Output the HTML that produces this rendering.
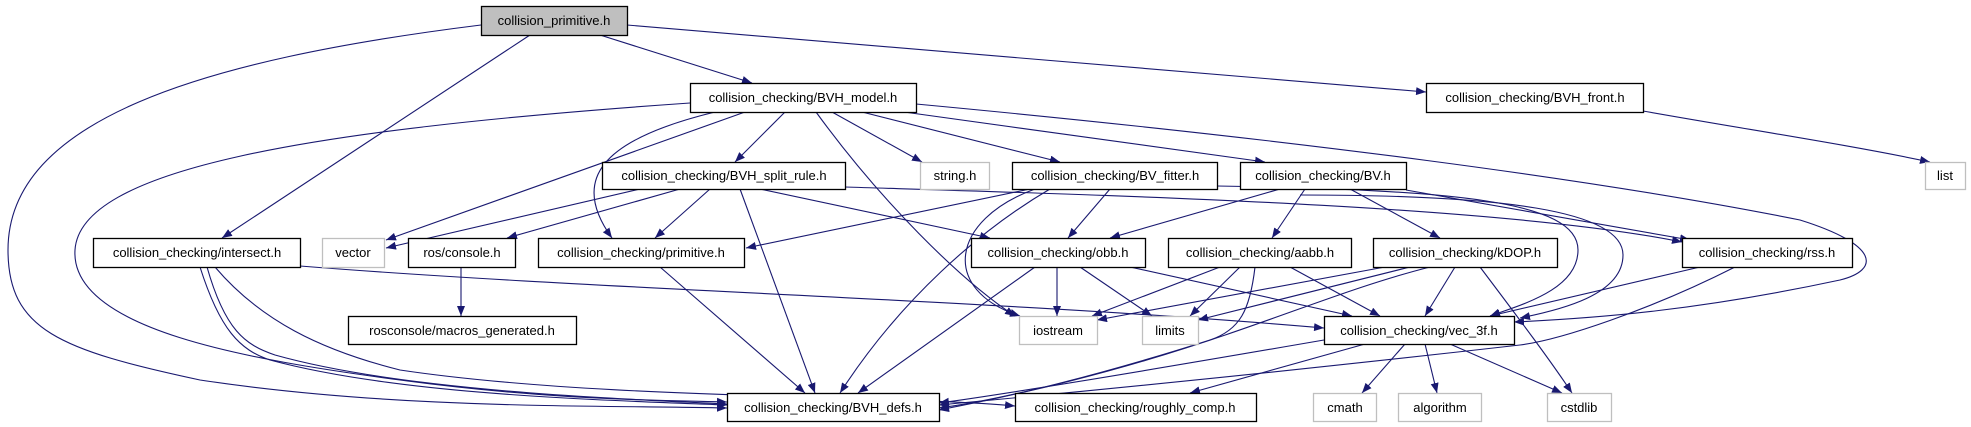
<!DOCTYPE html>
<html><head><meta charset="utf-8"><style>
html,body{margin:0;padding:0;background:#fff;}
svg{display:block;}
text{font-family:"Liberation Sans",sans-serif;font-size:13px;fill:#000;}
.e{fill:none;stroke:#191970;stroke-width:1.1;}
</style></head><body>
<svg width="1971" height="427" viewBox="0 0 1971 427" xmlns="http://www.w3.org/2000/svg">
<defs>
<marker id="a" viewBox="0 0 10 8" refX="10" refY="4" markerWidth="10" markerHeight="8" markerUnits="userSpaceOnUse" orient="auto">
<path d="M0,0 L10,4 L0,8 z" fill="#191970"/>
</marker>
</defs>
<g marker-end="url(#a)" class="e">
<!-- from collision_primitive -->
<path class="e" d="M481,25 C200,60 8,120 8,250 C8,330 60,350 200,380 C400,410 600,405 727,408"/>
<path class="e" d="M530,35 L222,238"/>
<path class="e" d="M600,35 L752,83"/>
<path class="e" d="M627,25 L1426,92"/>
<!-- BVH_model -->
<path class="e" d="M690,103 C300,130 80,170 75,250 C70,330 250,360 400,380 C550,400 650,400 727,402"/>
<path class="e" d="M745,112 L386,240"/>
<path class="e" d="M715,112 C600,140 570,180 612,238"/>
<path class="e" d="M785,112 L735,162"/>
<path class="e" d="M816,112 C880,200 960,280 1015,316"/>
<path class="e" d="M832,112 L922,162"/>
<path class="e" d="M862,112 L1060,162"/>
<path class="e" d="M904,112 L1265,162"/>
<path class="e" d="M916,104 C1300,140 1600,180 1800,220 C1880,245 1880,270 1840,280 C1700,310 1600,318 1514,322"/>
<path class="e" d="M1643,111 C1750,130 1850,145 1930,162"/>
<!-- split_rule -->
<path class="e" d="M640,189 L386,248"/>
<path class="e" d="M680,189 L507,238"/>
<path class="e" d="M710,189 L655,238"/>
<path class="e" d="M740,189 L815,393"/>
<path class="e" d="M760,189 L990,238"/>
<path class="e" d="M845,187 C1100,195 1500,205 1682,242"/>
<!-- BV_fitter -->
<path class="e" d="M1030,189 L746,248"/>
<path class="e" d="M1050,189 C980,230 900,300 840,393"/>
<path class="e" d="M1035,189 C950,220 940,290 1020,316"/>
<path class="e" d="M1110,189 L1068,238"/>
<path class="e" d="M1217,186 C1450,190 1578,200 1578,250 C1578,290 1520,305 1490,316"/>
<!-- BV.h -->
<path class="e" d="M1280,189 L1110,238"/>
<path class="e" d="M1305,189 L1272,238"/>
<path class="e" d="M1350,189 L1440,238"/>
<path class="e" d="M1406,190 L1690,240"/>
<path class="e" d="M1300,195 C1500,195 1623,210 1623,255 C1623,295 1560,310 1520,318"/>
<!-- obb -->
<path class="e" d="M1035,267 L858,393"/>
<path class="e" d="M1057,267 L1057,316"/>
<path class="e" d="M1080,267 L1152,316"/>
<path class="e" d="M1130,267 L1352,316"/>
<!-- aabb -->
<path class="e" d="M1220,267 L1092,316"/>
<path class="e" d="M1240,267 L1190,316"/>
<path class="e" d="M1255,267 C1250,310 1240,330 1210,340 C1100,375 1000,400 939,408"/>
<path class="e" d="M1290,267 L1380,316"/>
<!-- kDOP -->
<path class="e" d="M1385,267 L1097,320"/>
<path class="e" d="M1410,267 L1198,320"/>
<path class="e" d="M1430,267 C1300,300 1200,360 939,410"/>
<path class="e" d="M1455,267 L1425,316"/>
<path class="e" d="M1480,267 C1520,320 1550,360 1572,393"/>
<!-- rss -->
<path class="e" d="M1700,267 L1490,316"/>
<path class="e" d="M1735,267 C1650,310 1560,340 1520,345 C1300,370 1100,390 939,405"/>
<!-- intersect -->
<path class="e" d="M200,267 C220,330 240,350 270,360 C400,395 600,400 727,405"/>
<path class="e" d="M207,267 C225,330 245,345 275,355 C400,390 600,398 727,404"/>
<path class="e" d="M215,267 C260,320 320,350 400,370 C600,400 900,395 1015,406"/>
<path class="e" d="M300,266 C600,290 1000,300 1324,328"/>
<!-- primitive.h -->
<path class="e" d="M660,267 L805,393"/>
<!-- vec_3f -->
<path class="e" d="M1324,340 C1150,370 1000,395 939,403"/>
<path class="e" d="M1365,344 L1190,393"/>
<path class="e" d="M1405,344 L1362,393"/>
<path class="e" d="M1425,344 L1437,393"/>
<path class="e" d="M1450,344 L1562,393"/>
<!-- ros console -->
<path class="e" d="M461,267 L461,316"/>
</g>
<g stroke-width="1.3">
<rect x="481.5" y="6.5" width="146" height="29" fill="#bfbfbf" stroke="#000"/>
<rect x="690.5" y="83.5" width="226" height="29" fill="#fff" stroke="#000"/>
<rect x="1426.5" y="83.5" width="217" height="29" fill="#fff" stroke="#000"/>
<rect x="602.5" y="162.5" width="243" height="27" fill="#fff" stroke="#000"/>
<rect x="920.5" y="162.5" width="69" height="27" fill="#fff" stroke="#bfbfbf"/>
<rect x="1012.5" y="162.5" width="205" height="27" fill="#fff" stroke="#000"/>
<rect x="1240.5" y="162.5" width="166" height="27" fill="#fff" stroke="#000"/>
<rect x="1925.5" y="162.5" width="40" height="27" fill="#fff" stroke="#bfbfbf"/>
<rect x="93.5" y="238.5" width="207" height="29" fill="#fff" stroke="#000"/>
<rect x="322.5" y="238.5" width="62" height="29" fill="#fff" stroke="#bfbfbf"/>
<rect x="408.5" y="238.5" width="107" height="29" fill="#fff" stroke="#000"/>
<rect x="538.5" y="238.5" width="206" height="29" fill="#fff" stroke="#000"/>
<rect x="971.5" y="238.5" width="174" height="29" fill="#fff" stroke="#000"/>
<rect x="1168.5" y="238.5" width="183" height="29" fill="#fff" stroke="#000"/>
<rect x="1373.5" y="238.5" width="184" height="29" fill="#fff" stroke="#000"/>
<rect x="1682.5" y="238.5" width="170" height="29" fill="#fff" stroke="#000"/>
<rect x="348.5" y="316.5" width="228" height="28" fill="#fff" stroke="#000"/>
<rect x="1019.5" y="316.5" width="78" height="28" fill="#fff" stroke="#bfbfbf"/>
<rect x="1142.5" y="316.5" width="56" height="28" fill="#fff" stroke="#bfbfbf"/>
<rect x="1324.5" y="316.5" width="190" height="28" fill="#fff" stroke="#000"/>
<rect x="727.5" y="393.5" width="212" height="28" fill="#fff" stroke="#000"/>
<rect x="1015.5" y="393.5" width="241" height="28" fill="#fff" stroke="#000"/>
<rect x="1313.5" y="393.5" width="63" height="28" fill="#fff" stroke="#bfbfbf"/>
<rect x="1398.5" y="393.5" width="83" height="28" fill="#fff" stroke="#bfbfbf"/>
<rect x="1547.5" y="393.5" width="64" height="28" fill="#fff" stroke="#bfbfbf"/>
</g>
<g text-anchor="middle">
<text x="554" y="25">collision_primitive.h</text>
<text x="803" y="102">collision_checking/BVH_model.h</text>
<text x="1535" y="102">collision_checking/BVH_front.h</text>
<text x="724" y="180">collision_checking/BVH_split_rule.h</text>
<text x="955" y="180">string.h</text>
<text x="1115" y="180">collision_checking/BV_fitter.h</text>
<text x="1323" y="180">collision_checking/BV.h</text>
<text x="1945" y="180">list</text>
<text x="197" y="257">collision_checking/intersect.h</text>
<text x="353" y="257">vector</text>
<text x="462" y="257">ros/console.h</text>
<text x="641" y="257">collision_checking/primitive.h</text>
<text x="1058" y="257">collision_checking/obb.h</text>
<text x="1260" y="257">collision_checking/aabb.h</text>
<text x="1465" y="257">collision_checking/kDOP.h</text>
<text x="1767" y="257">collision_checking/rss.h</text>
<text x="462" y="335">rosconsole/macros_generated.h</text>
<text x="1058" y="335">iostream</text>
<text x="1170" y="335">limits</text>
<text x="1419" y="335">collision_checking/vec_3f.h</text>
<text x="833" y="412">collision_checking/BVH_defs.h</text>
<text x="1135" y="412">collision_checking/roughly_comp.h</text>
<text x="1345" y="412">cmath</text>
<text x="1440" y="412">algorithm</text>
<text x="1579" y="412">cstdlib</text>
</g>
</svg>
</body></html>
